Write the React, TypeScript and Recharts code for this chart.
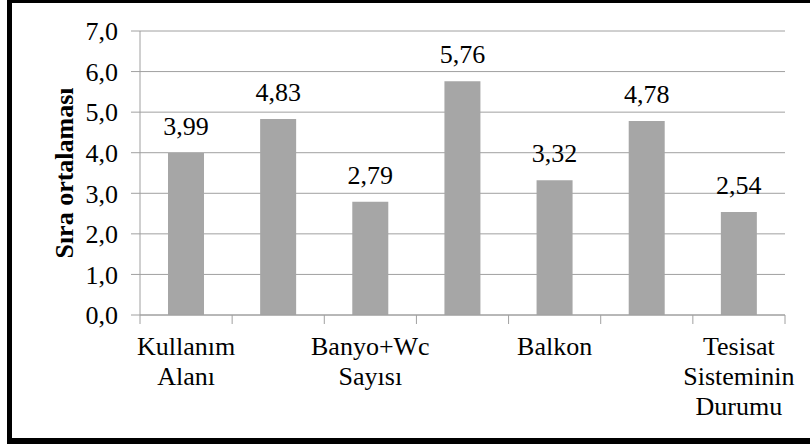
import { BarChart, Bar, XAxis, YAxis, CartesianGrid, LabelList } from 'recharts';

// kategori etiketleri (grafikte yalnızca her ikinci etiket görünüyor)
const categories = [
  'Kullanım\nAlanı',
  '',
  'Banyo+Wc\nSayısı',
  '',
  'Balkon',
  '',
  'Tesisat\nSisteminin\nDurumu',
];
const siraOrtalamasi = [3.99, 4.83, 2.79, 5.76, 3.32, 4.78, 2.54];
const yTicks = [0, 1, 2, 3, 4, 5, 6, 7];

const data = categories.map((name, i) => ({ name, value: siraOrtalamasi[i] }));

const FONT = "'Liberation Serif', 'Times New Roman', serif";
const FS = 26;
const GRID = '#a0a0a0';
const STEP = 645 / categories.length;

const XTick = (props: any) => {
  const { x, y, payload, index } = props;
  const lines = String(payload.value).split('\n').filter((s) => s !== '');
  return (
    <g>
      <line x1={x - STEP / 2} x2={x - STEP / 2} y1={y} y2={y + 9} stroke={GRID} />
      {index === categories.length - 1 && (
        <line x1={x + STEP / 2} x2={x + STEP / 2} y1={y} y2={y + 9} stroke={GRID} />
      )}
      {lines.map((l, i) => (
        <text
          key={i}
          x={x}
          y={y + 40 + i * 30}
          textAnchor="middle"
          fontFamily={FONT}
          fontSize={FS}
          fill="#000"
        >
          {l}
        </text>
      ))}
    </g>
  );
};

const YLabel = (props: any) => {
  const vb = props.viewBox || {};
  const cy = (vb.y ?? 31) + (vb.height ?? 284) / 2;
  return (
    <text
      x={64}
      y={cy}
      transform={`rotate(-90, 64, ${cy})`}
      textAnchor="middle"
      dominantBaseline="central"
      fontFamily={FONT}
      fontSize={FS}
      fontWeight="bold"
      fill="#000"
    >
      Sıra ortalaması
    </text>
  );
};

export default function App() {
  return (
    <div style={{ position: 'absolute', left: 0, top: 0, width: 810, height: 444, overflow: 'hidden', background: '#fff' }}>
      <div
        style={{
          position: 'absolute',
          left: 7,
          top: -2,
          width: 820,
          height: 446,
          boxSizing: 'border-box',
          border: '5px solid #000',
          borderBottomWidth: 6,
        }}
      />
      <div style={{ position: 'absolute', left: 0, top: 0 }}>
        <BarChart
          width={810}
          height={444}
          data={data}
          margin={{ top: 31, right: 25, left: 0, bottom: 0 }}
          barSize={36}
        >
          <CartesianGrid horizontal vertical={false} stroke={GRID} strokeWidth={1} />
          <XAxis
            dataKey="name"
            height={129}
            interval={0}
            tickLine={false}
            tickSize={0}
            tickMargin={0}
            axisLine={{ stroke: GRID }}
            tick={<XTick />}
          />
          <YAxis
            width={140}
            domain={[0, 7]}
            ticks={yTicks}
            interval={0}
            tickSize={9}
            tickMargin={13}
            axisLine={{ stroke: GRID }}
            tickLine={{ stroke: GRID }}
            tick={{ fontFamily: FONT, fontSize: FS, fill: '#000' }}
            tickFormatter={(v: number) => v.toFixed(1).replace('.', ',')}
            label={<YLabel />}
          />
          <Bar dataKey="value" fill="#a6a6a6" isAnimationActive={false}>
            <LabelList
              dataKey="value"
              position="top"
              offset={18}
              fontFamily={FONT}
              fontSize={FS}
              fill="#000"
              formatter={(v: any) => Number(v).toFixed(2).replace('.', ',')}
            />
          </Bar>
        </BarChart>
      </div>
    </div>
  );
}
